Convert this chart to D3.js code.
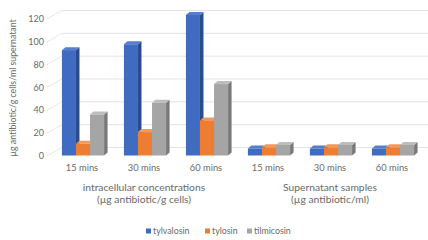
<!DOCTYPE html>
<html>
<head>
<meta charset="utf-8">
<script src="https://cdn.jsdelivr.net/npm/d3@7"></script>
<style>
  body { margin: 0; background: #fff; }
  text { font-family: Lato, 'Open Sans', sans-serif; fill: #6a6a6a; }
</style>
</head>
<body>
<svg id="chart"></svg>
<script>
const width = 428
const height = 240

// data
const timepoints = ['15 mins', '30 mins', '60 mins', '15 mins', '30 mins', '60 mins']
const groupLabels = [
  ['intracellular concentrations', '(µg antibiotic/g cells)'],
  ['Supernatant samples', '(µg antibiotic/ml)'],
]
const seriesNames = ['tylvalosin', 'tylosin', 'tilmicosin']
const tylvalosin = [90, 95, 120, 6, 6, 6]
const tylosin = [10, 20, 30, 7, 7, 7]
const tilmicosin = [35, 45, 61, 9, 9, 9]
const yTicks = [0, 20, 40, 60, 80, 100, 120]

const frontColors = ['#3f6bc0', '#ed7d31', '#a5a5a5']
const sideColors = ['#2a4b8c', '#b85a1c', '#787878']
const topColors = ['#557fcc', '#f29a5c', '#bdbdbd']

const svg = d3.select('#chart').attr('width', width).attr('height', height)

// 3d offsets: wall depth and bar depth
const wall = { dx: 15, dy: -8.5 }
const bar = { dx: 3.5, dy: -3 }

const yAxis = d3.scaleLinear().domain([0, 120]).range([156, 19])
const yBar = d3.scaleLinear().domain([0, 120]).range([155.5, 15])

const x = d3.scaleBand()
  .domain(d3.range(timepoints.length))
  .range([52, 424])
  .paddingInner(0.32)
  .paddingOuter(0.16)

const xs = d3.scaleBand().domain(seriesNames).range([0, x.bandwidth()])

// gridlines on back wall + diagonals on side
const grid = svg.append('g')
grid.selectAll('line.h')
  .data(yTicks)
  .join('line')
  .attr('class', 'h')
  .attr('x1', 47 + wall.dx)
  .attr('x2', width)
  .attr('y1', (d) => yAxis(d) + wall.dy)
  .attr('y2', (d) => yAxis(d) + wall.dy)
  .attr('stroke', '#e3e3e3')
  .attr('stroke-width', 1)
grid.selectAll('line.d')
  .data(yTicks)
  .join('line')
  .attr('class', 'd')
  .attr('x1', 47)
  .attr('x2', 47 + wall.dx)
  .attr('y1', (d) => yAxis(d))
  .attr('y2', (d) => yAxis(d) + wall.dy)
  .attr('stroke', '#e8e8e8')
  .attr('stroke-width', 1)

// y tick labels
svg.append('g')
  .selectAll('text')
  .data(yTicks)
  .join('text')
  .attr('x', 44)
  .attr('y', (d) => yAxis(d))
  .attr('dy', '0.35em')
  .attr('text-anchor', 'end')
  .attr('font-size', 9)
  .text((d) => d)

// y title
svg.append('text')
  .attr('transform', 'translate(13,' + 88 + ') rotate(-90)')
  .attr('text-anchor', 'middle')
  .attr('dy', '0.35em')
  .attr('font-size', 8.8)
  .text('µg antibiotic/g cells/ml supernatant')

// bars
const values = [tylvalosin, tylosin, tilmicosin]
const bars = []
timepoints.forEach(function (t, i) {
  seriesNames.forEach(function (s, j) {
    bars.push({ i: i, j: j, v: values[j][i] })
  })
})

const barG = svg.append('g')
  .selectAll('g')
  .data(bars)
  .join('g')

barG.each(function (d) {
  const g = d3.select(this)
  const x0 = x(d.i) + xs(seriesNames[d.j])
  const w = xs.bandwidth()
  const y0 = yBar(0)
  const y1 = yBar(d.v)
  // side face
  g.append('path')
    .attr('d', `M${x0 + w},${y1}L${x0 + w + bar.dx},${y1 + bar.dy}L${x0 + w + bar.dx},${y0 + bar.dy}L${x0 + w},${y0}Z`)
    .attr('fill', sideColors[d.j])
  // top face
  g.append('path')
    .attr('d', `M${x0},${y1}L${x0 + bar.dx},${y1 + bar.dy}L${x0 + w + bar.dx},${y1 + bar.dy}L${x0 + w},${y1}Z`)
    .attr('fill', topColors[d.j])
  // front face
  g.append('rect')
    .attr('x', x0)
    .attr('y', y1)
    .attr('width', w)
    .attr('height', y0 - y1)
    .attr('fill', frontColors[d.j])
})

// category labels
svg.append('g')
  .selectAll('text')
  .data(timepoints)
  .join('text')
  .attr('x', (d, i) => x(i) + x.bandwidth() / 2 - 1)
  .attr('y', 171)
  .attr('text-anchor', 'middle')
  .attr('font-size', 9.3)
  .text((d) => d)

// group labels
groupLabels.forEach(function (lines, k) {
  const cx = x(k * 3 + 1) + x.bandwidth() / 2 - 1
  svg.append('text')
    .attr('x', cx)
    .attr('y', 191)
    .attr('text-anchor', 'middle')
    .attr('font-size', 10.3)
    .text(lines[0])
  svg.append('text')
    .attr('x', cx)
    .attr('y', 203)
    .attr('text-anchor', 'middle')
    .attr('font-size', 10.3)
    .text(lines[1])
})

// legend
const legendX = [146, 205, 247]
const legend = svg.append('g')
  .selectAll('g')
  .data(seriesNames)
  .join('g')
  .attr('transform', (d, i) => 'translate(' + legendX[i] + ',231)')
legend.append('rect')
  .attr('x', 0)
  .attr('y', -2.5)
  .attr('width', 5)
  .attr('height', 5)
  .attr('fill', (d, i) => frontColors[i])
legend.append('text')
  .attr('x', 7)
  .attr('dy', '0.35em')
  .attr('font-size', 8.8)
  .text((d) => d)
</script>
</body>
</html>
